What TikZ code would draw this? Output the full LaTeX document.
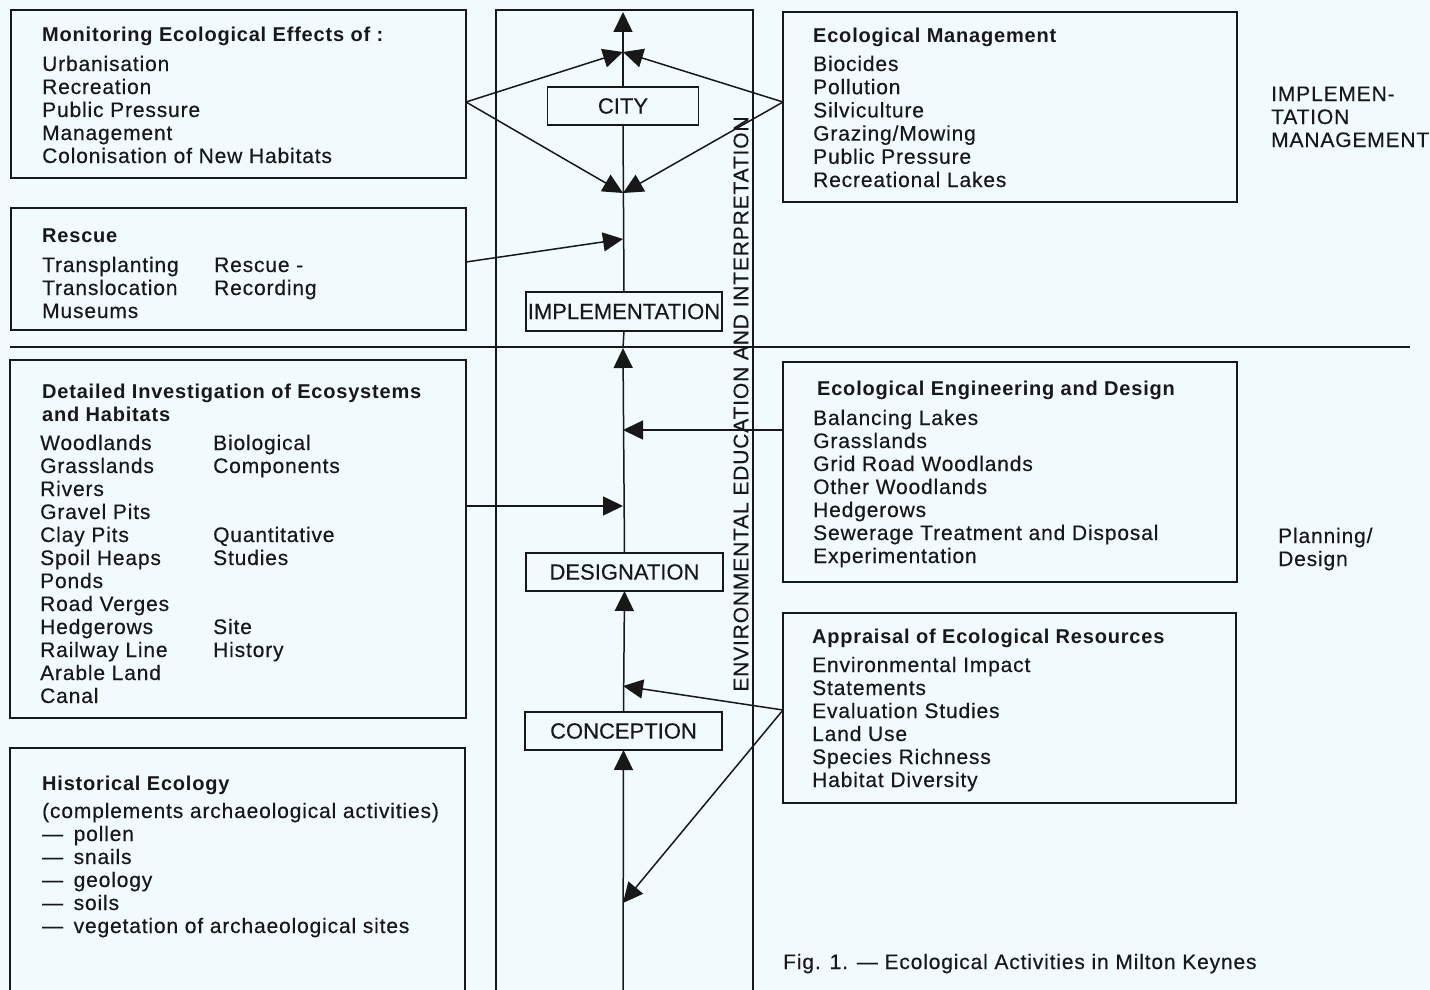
\documentclass[tikz,border=0pt]{standalone}
\usepackage{fontspec}
\setmainfont{Liberation Sans}[LetterSpace=4.0, UprightFeatures={FakeBold=0.35}]
\newfontfamily\stagefont{Liberation Sans}[FakeBold=0.35]
\usetikzlibrary{arrows.meta}
\definecolor{bg}{RGB}{241,250,252}
\definecolor{ink}{RGB}{24,24,24}
\begin{document}
\begin{tikzpicture}[x=1pt,y=-1pt,
  box/.style={draw=ink, line width=1.5pt, rectangle, inner sep=0pt, outer sep=0pt, anchor=north west},
  txt/.style={anchor=base west, inner sep=0pt, text=ink, font=\fontsize{21}{23}\selectfont},
  hd/.style={txt, font=\fontsize{20}{23}\selectfont\bfseries},
  stage/.style={draw=ink, line width=1.5pt, fill=bg, inner sep=0pt, outer sep=0pt, text=ink, font=\stagefont\fontsize{22}{24}\selectfont},
  conn/.style={draw=ink, line width=1.5pt},
  arr/.style={conn, -{Triangle[length=20pt,width=19pt]}}]
\useasboundingbox (0,0) rectangle (1430,990);
\clip (0,0) rectangle (1430,990);
\fill[bg] (0,0) rectangle (1430,990);

% central column
\node[box, minimum width=257pt, minimum height=1000pt] (col) at (496,10) {};

% left boxes
\node[box, minimum width=455pt, minimum height=168pt] (mon) at (11,10) {};
\node[box, minimum width=455pt, minimum height=122pt] (res) at (11,208) {};
\node[box, minimum width=456pt, minimum height=358pt] (det) at (10,360) {};
\node[box, minimum width=455pt, minimum height=260pt] (his) at (10,748) {};
% right boxes
\node[box, minimum width=454pt, minimum height=190pt] (mgmt) at (783,12) {};
\node[box, minimum width=454pt, minimum height=220pt] (eng) at (783,362) {};
\node[box, minimum width=453pt, minimum height=190pt] (app) at (783,613) {};

% divider
\coordinate (divL) at (10,347);
\coordinate (divR) at (1410,347);
\draw[conn] (divL) -- (divR);

% stage boxes
\node[stage, minimum width=151pt, minimum height=38pt] (city) at (623,106) {CITY};
\node[stage, minimum width=196pt, minimum height=39pt] (impl) at (624,311.5) {IMPLEMENTATION};
\node[stage, minimum width=197pt, minimum height=38pt] (des) at (624.5,572) {DESIGNATION};
\node[stage, minimum width=197pt, minimum height=38pt] (conc) at (623.5,731) {CONCEPTION};

% main line coordinates
\coordinate (top) at (623,12);
\coordinate (t1) at (623,52);
\coordinate (t2) at (623,193);
\coordinate (t3) at (623,239);
\coordinate (t4) at (623,348);
\coordinate (t5) at (623,430);
\coordinate (t6) at (623,506);
\coordinate (t7) at (623,686);
\coordinate (t8) at (623,903);
\coordinate (bot) at (623,1000);

\draw[arr] (bot) -- (conc.south);
\draw[arr] (conc.north) -- (des.south);
\draw[arr] (des.north) -- (t4);
\draw[conn] (t4) -- (impl.south);
\draw[conn] (impl.north) -- (city.south);
\draw[arr] (city.north) -- (top);

% side connectors
\draw[arr] ([yshift=-8pt]mon.east) -- (t1);
\draw[arr] ([yshift=-8pt]mon.east) -- (t2);
\draw[arr] ([yshift=5pt]mgmt.west) -- (t1);
\draw[arr] ([yshift=5pt]mgmt.west) -- (t2);
\draw[arr] ([yshift=7pt]res.east) -- (t3);
\draw[arr] ([yshift=42pt]eng.west) -- (t5);
\draw[arr] ([yshift=33pt]det.east) -- (t6);
\draw[arr] ([yshift=-2pt]app.west) -- (t7);
\draw[arr] ([yshift=-2pt]app.west) -- (t8);

% vertical label
\node[inner sep=0pt, text=ink, rotate=90, font=\fontsize{21}{23}\selectfont] (edu) at (741,404) {ENVIRONMENTAL EDUCATION AND INTERPRETATION};

% Monitoring
\node[hd] (monh) at (42,42) {Monitoring Ecological Effects of :};
\foreach \t [count=\i] in {Urbanisation, Recreation, Public Pressure, Management, Colonisation of New Habitats}
  \node[txt] (mon-\i) at (42,{71+23*(\i-1)}) {\t};

% Rescue
\node[hd] (resh) at (42,242) {Rescue};
\foreach \t [count=\i] in {Transplanting, Translocation, Museums}
  \node[txt] (res-\i) at (42,{272+23*(\i-1)}) {\t};
\node[txt] (resr1) at (214,272) {Rescue -};
\node[txt] (resr2) at (214,295) {Recording};

% Detailed
\node[hd] (deth1) at (42,398) {Detailed Investigation of Ecosystems};
\node[hd] (deth2) at (42,421) {and Habitats};
\foreach \t [count=\i] in {Woodlands, Grasslands, Rivers, Gravel Pits, Clay Pits, Spoil Heaps, Ponds, Road Verges, Hedgerows, Railway Line, Arable Land, Canal}
  \node[txt] (det-\i) at (40,{450+23*(\i-1)}) {\t};
\node[txt] (detr1) at (213,450) {Biological};
\node[txt] (detr2) at (213,473) {Components};
\node[txt] (detr3) at (213,542) {Quantitative};
\node[txt] (detr4) at (213,565) {Studies};
\node[txt] (detr5) at (213,634) {Site};
\node[txt] (detr6) at (213,657) {History};

% Historical
\node[hd] (hish) at (42,790) {Historical Ecology};
\node[txt] (his-0) at (42,818) {(complements archaeological activities)};
\foreach \t [count=\i] in {pollen, snails, geology, soils, vegetation of archaeological sites}
  \node[txt] (his-\i) at (42,{841+23*(\i-1)}) {—\hspace{0.5em}\t};

% Ecological Management
\node[hd] (mgmth) at (813,43) {Ecological Management};
\foreach \t [count=\i] in {Biocides, Pollution, Silviculture, Grazing/Mowing, Public Pressure, Recreational Lakes}
  \node[txt] (mgmt-\i) at (813,{71+23.2*(\i-1)}) {\t};

% Ecological Engineering
\node[hd] (engh) at (817,395) {Ecological Engineering and Design};
\foreach \t [count=\i] in {Balancing Lakes, Grasslands, Grid Road Woodlands, Other Woodlands, Hedgerows, Sewerage Treatment and Disposal, Experimentation}
  \node[txt] (eng-\i) at (813,{425+23*(\i-1)}) {\t};

% Appraisal
\node[hd] (apph) at (812,643) {Appraisal of Ecological Resources};
\foreach \t [count=\i] in {Environmental Impact, Statements, Evaluation Studies, Land Use, Species Richness, Habitat Diversity}
  \node[txt] (app-\i) at (812,{672+23*(\i-1)}) {\t};

% right-hand labels
\node[txt] (im1) at (1271,101) {IMPLEMEN-};
\node[txt] (im2) at (1271,124) {TATION};
\node[txt] (im3) at (1271,147) {MANAGEMENT};
\node[txt] (pl1) at (1278,543) {Planning/};
\node[txt] (pl2) at (1278,566) {Design};

% caption
\node[txt] (cap) at (783,969) {Fig. 1. — Ecological Activities in Milton Keynes};
\end{tikzpicture}
\end{document}
